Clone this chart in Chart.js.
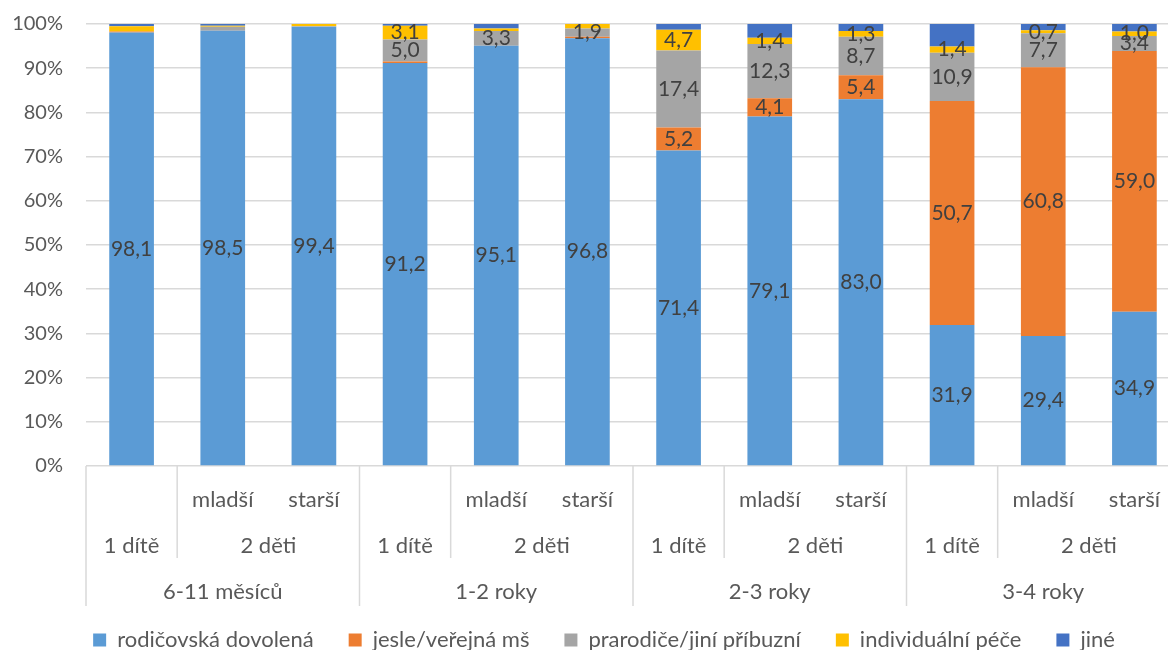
<!DOCTYPE html>
<html lang="cs">
<head>
<meta charset="utf-8">
<title>Péče o dítě podle věku</title>
<script src="https://cdn.jsdelivr.net/npm/chart.js@4.4.1/dist/chart.umd.min.js"></script>
<style>
  html, body { margin: 0; padding: 0; background: #fff; overflow: hidden; }
  #wrap { width: 1182px; height: 661px; }
</style>
</head>
<body>
<div id="wrap"><canvas id="chartPece" width="1182" height="661"></canvas></div>
<script>
// kategorie (3 úrovně osy x)
const vekSkupiny = ['6-11 měsíců', '1-2 roky', '2-3 roky', '3-4 roky'];
const pocetDeti = ['1 dítě', '2 děti', '2 děti'];
const poradi = ['', 'mladší', 'starší'];

// hodnoty v %
const rodicovska = [98.1, 98.5, 99.4, 91.2, 95.1, 96.8, 71.4, 79.1, 83.0, 31.9, 29.4, 34.9];
const jesle      = [0.2, 0.0, 0.0, 0.3, 0.0, 0.3, 5.2, 4.1, 5.4, 50.7, 60.8, 59.0];
const prarodice  = [0.0, 0.9, 0.1, 5.0, 3.3, 1.9, 17.4, 12.3, 8.7, 10.9, 7.7, 3.4];
const individual = [1.2, 0.2, 0.5, 3.1, 0.6, 1.0, 4.7, 1.4, 1.3, 1.4, 0.7, 1.0];
const jine       = [0.5, 0.4, 0.0, 0.4, 1.0, 0.0, 1.3, 3.1, 1.6, 5.1, 1.4, 1.7];

// které hodnoty mají popisek
const popisRodic = [1, 1, 1, 1, 1, 1, 1, 1, 1, 1, 1, 1];
const popisJesle = [0, 0, 0, 0, 0, 0, 1, 1, 1, 1, 1, 1];
const popisPrar  = [0, 0, 0, 1, 1, 1, 1, 1, 1, 1, 1, 1];
const popisIndiv = [0, 0, 0, 1, 0, 0, 1, 1, 1, 1, 1, 1];
const popisJine  = [0, 0, 0, 0, 0, 0, 0, 0, 0, 0, 0, 0];

const yTicks = [0, 10, 20, 30, 40, 50, 60, 70, 80, 90, 100];

const FONT = 'Lato';
const TEXT = '#595959';
const GRID = '#d9d9d9';

const labels = [];
vekSkupiny.forEach(v => {
  poradi.forEach((p, j) => labels.push([v, pocetDeti[j], p].filter(Boolean).join(' – ')));
});

// popisky hodnot uprostřed segmentů
const valueLabels = {
  id: 'valueLabels',
  afterDatasetsDraw(chart) {
    const ctx = chart.ctx;
    ctx.save();
    ctx.font = '21px ' + FONT;
    ctx.fillStyle = '#404040';
    ctx.textAlign = 'center';
    ctx.textBaseline = 'middle';
    chart.data.datasets.forEach((ds, d) => {
      const meta = chart.getDatasetMeta(d);
      meta.data.forEach((el, i) => {
        if (!ds.popisky[i]) return;
        const y = (el.y + el.base) / 2;
        ctx.fillText(ds.data[i].toFixed(1).replace('.', ','), el.x, y);
      });
    });
    ctx.restore();
  }
};

// víceúrovňová osa x
const multiAxis = {
  id: 'multiAxis',
  afterLayout(chart) {
    // legenda je v originále trochu posunutá doprava
    chart.legend.left += 14;
    chart.legend.right += 14;
  },
  afterDraw(chart) {
    const ctx = chart.ctx;
    const x = chart.scales.x;
    const top = chart.chartArea.bottom;
    const half = (x.getPixelForValue(1) - x.getPixelForValue(0)) / 2;
    ctx.save();
    ctx.strokeStyle = GRID;
    ctx.lineWidth = 1.5;
    ctx.fillStyle = TEXT;
    ctx.font = '22px ' + FONT;
    ctx.textAlign = 'center';
    ctx.textBaseline = 'middle';
    const line = (px, y2) => {
      ctx.beginPath();
      ctx.moveTo(px, top);
      ctx.lineTo(px, y2);
      ctx.stroke();
    };
    vekSkupiny.forEach((v, g) => {
      const i0 = g * 3;
      const left = x.getPixelForValue(i0) - half;
      const sub = x.getPixelForValue(i0 + 1) - half;
      const right = x.getPixelForValue(i0 + 2) + half;
      line(left, top + 140);
      line(sub, top + 92);
      if (g === vekSkupiny.length - 1) line(right, top + 140);
      ctx.fillText(poradi[1], x.getPixelForValue(i0 + 1), top + 34);
      ctx.fillText(poradi[2], x.getPixelForValue(i0 + 2), top + 34);
      ctx.fillText(pocetDeti[0], x.getPixelForValue(i0), top + 80);
      ctx.fillText(pocetDeti[1], (sub + right) / 2, top + 80);
      ctx.fillText(v, (left + right) / 2, top + 126);
    });
    ctx.restore();
  }
};

function serie(label, data, color, popisky) {
  return {
    label: label,
    data: data,
    popisky: popisky,
    backgroundColor: color,
    borderWidth: 0,
    categoryPercentage: 1,
    barPercentage: 0.49
  };
}

const ctx = document.getElementById('chartPece').getContext('2d');
new Chart(ctx, {
  type: 'bar',
  data: {
    labels: labels,
    datasets: [
      serie('rodičovská dovolená', rodicovska, '#5b9bd5', popisRodic),
      serie('jesle/veřejná mš', jesle, '#ed7d31', popisJesle),
      serie('prarodiče/jiní příbuzní', prarodice, '#a5a5a5', popisPrar),
      serie('individuální péče', individual, '#ffc000', popisIndiv),
      serie('jiné', jine, '#4472c4', popisJine)
    ]
  },
  options: {
    responsive: false,
    animation: false,
    devicePixelRatio: 1,
    layout: { padding: { top: 24, right: 2, bottom: 0, left: 0 } },
    plugins: {
      legend: {
        position: 'bottom',
        labels: {
          boxWidth: 13,
          boxHeight: 13,
          padding: 35,
          color: TEXT,
          font: { family: FONT, size: 22 }
        }
      },
      tooltip: { enabled: true }
    },
    scales: {
      x: {
        stacked: true,
        ticks: { display: false },
        grid: { display: false },
        border: { display: false },
        afterFit: s => { s.height = 128; }
      },
      y: {
        stacked: true,
        min: 0,
        max: 100,
        afterBuildTicks: s => { s.ticks = yTicks.map(v => ({ value: v })); },
        afterFit: s => { s.width = 86; s.paddingTop = 10; s.paddingBottom = 10; },
        ticks: {
          padding: 23,
          color: TEXT,
          font: { family: FONT, size: 20 },
          callback: v => v + '%'
        },
        grid: { color: GRID, lineWidth: 1.5, drawTicks: false },
        border: { display: false }
      }
    }
  },
  plugins: [valueLabels, multiAxis]
});
</script>
</body>
</html>
